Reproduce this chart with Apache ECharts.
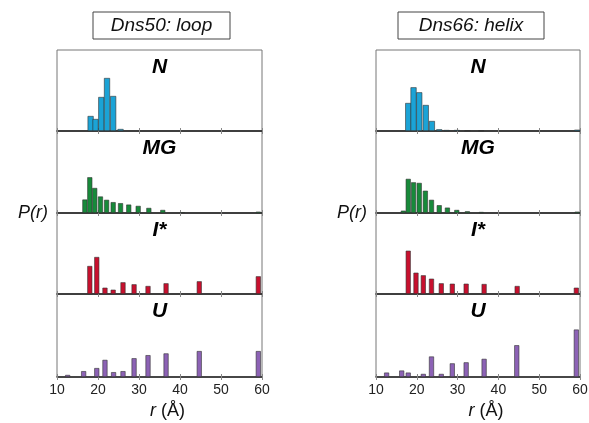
<!DOCTYPE html>
<html>
<head>
<meta charset="utf-8">
<script src="https://cdn.jsdelivr.net/npm/echarts@6/dist/echarts.min.js"></script>
<style>
  html, body { margin: 0; padding: 0; background: #fff; }
  #chart { width: 589px; height: 423px; }
</style>
</head>
<body>
<div id="chart"></div>
<script>
// panel names, top to bottom
var states = ['N', 'MG', 'I*', 'U']
var colTitles = ['Dns50: loop', 'Dns66: helix']
var xTicks = [10, 20, 30, 40, 50, 60]

// Dns50: loop  (r in Å, P(r) in arbitrary units)
var loopN_r = [18.2, 19.4, 20.8, 22.2, 23.7, 25.5]
var loopN_p = [15, 12, 34, 53, 35, 2]
var loopMG_r = [16.8, 18.0, 19.2, 20.6, 22.1, 23.7, 25.5, 27.5, 29.8, 32.4, 35.8, 40.6, 59.1]
var loopMG_p = [13.3, 35.3, 24.7, 16.3, 13, 10.7, 9.7, 8.3, 7, 5, 3, 0.8, 1.3]
var loopI_r = [18.0, 19.7, 21.7, 23.7, 26.1, 28.8, 32.2, 36.6, 44.7, 59.1]
var loopI_p = [28, 37, 6.3, 4.3, 11.7, 9.7, 8, 10.7, 12.7, 17.7]
var loopU_r = [12.6, 16.5, 19.7, 21.7, 23.8, 26.1, 28.8, 32.2, 36.6, 44.7, 59.1]
var loopU_p = [2, 5.7, 8.7, 16.7, 4.7, 5.7, 18.3, 21.3, 23, 25.3, 25.3]

// Dns66: helix
var helixN_r = [17.9, 19.2, 20.6, 22.2, 23.7, 25.5, 27.3, 29.8, 32.4, 35.8, 59.3]
var helixN_p = [28, 43.7, 38.7, 26, 10, 1.7, 1, 1, 0.6, 0.6, 1.3]
var helixMG_r = [16.7, 17.9, 19.2, 20.6, 22.1, 23.6, 25.5, 27.5, 29.8, 32.4, 35.8, 59.3]
var helixMG_p = [2.3, 33.7, 30.3, 29.7, 22, 13, 7.7, 5.3, 3, 1.7, 1, 1.3]
var helixI_r = [17.9, 19.8, 21.6, 23.6, 26.0, 28.7, 32.1, 36.5, 44.6, 59.1]
var helixI_p = [43.3, 21.3, 18.7, 15.3, 10.7, 10.3, 10.3, 10, 8, 6.3]
var helixU_r = [12.6, 16.3, 17.9, 21.6, 23.6, 26.0, 28.7, 32.1, 36.5, 44.5, 59.1]
var helixU_p = [4.3, 6.3, 4.3, 3, 20, 3, 13.3, 14.3, 17.7, 31, 46.3]

var colors = ['#1ba3d6', '#178a3a', '#c8102e', '#8c62b5']

var panelData = [
    [[loopN_r, loopN_p], [loopMG_r, loopMG_p], [loopI_r, loopI_p], [loopU_r, loopU_p]],
    [[helixN_r, helixN_p], [helixMG_r, helixMG_p], [helixI_r, helixI_p], [helixU_r, helixU_p]]
]

var colLeft = [57, 376]
var colWidth = [205, 204]
var rowTop = [50, 131, 213, 294, 377]
var font = 'Liberation Sans, Arial, sans-serif'

function pairs(r, p) {
    return r.map(function(v, i) { return [v, p[i]] })
}

var grids = [], xAxes = [], yAxes = [], series = [], graphics = []

for (var c = 0; c < 2; c++) {
    for (var s = 0; s < 4; s++) {
        var gi = grids.length
        var last = s == 3
        grids.push({
            left: colLeft[c],
            width: colWidth[c],
            top: rowTop[s],
            height: rowTop[s + 1] - rowTop[s],
            show: true,
            borderColor: '#777',
            borderWidth: 1,
            outerBoundsMode: 'none'
        })
        // bottom axis (labels only on the last row)
        xAxes.push({
            gridIndex: gi,
            type: 'value',
            min: 10, max: 60, interval: 10,
            position: 'bottom',
            axisLine: { show: true, onZero: false, lineStyle: { color: '#222', width: 1.5 } },
            axisTick: { show: true, inside: true, length: 3, lineStyle: { color: '#888' } },
            axisLabel: {
                show: last, color: '#222', fontSize: 14, fontFamily: font, margin: 6,
                formatter: function(v) { return xTicks.indexOf(v) >= 0 ? String(v) : '' }
            },
            splitLine: { show: false }
        })
        // top axis, ticks only
        xAxes.push({
            gridIndex: gi,
            type: 'value',
            min: 10, max: 60, interval: 10,
            position: 'top',
            axisLine: { show: false },
            axisTick: { show: true, inside: true, length: 3, lineStyle: { color: '#888' } },
            axisLabel: { show: false },
            splitLine: { show: false }
        })
        yAxes.push({
            gridIndex: gi,
            type: 'value',
            min: 0, max: 81,
            show: false,
            splitLine: { show: false }
        })
        var d = panelData[c][s]
        series.push({
            type: 'bar',
            xAxisIndex: gi * 2,
            yAxisIndex: gi,
            barWidth: s == 0 ? 6 : 5,
            itemStyle: { color: colors[s], borderColor: '#333', borderWidth: 0.6 },
            data: pairs(d[0], d[1])
        })
        // panel label
        graphics.push({
            type: 'text',
            x: colLeft[c] + colWidth[c] / 2,
            y: rowTop[s] + 17,
            style: {
                text: states[s], fill: '#000', font: 'italic bold 21px ' + font,
                align: 'center', verticalAlign: 'middle'
            }
        })
    }
    // column title box
    var cx = colLeft[c] + colWidth[c] / 2 + (c == 0 ? 2 : -7)
    var bw = c == 0 ? 137 : 146
    graphics.push({
        type: 'rect',
        shape: { x: cx - bw / 2, y: 12, width: bw, height: 27 },
        style: { fill: '#fff', stroke: '#444', lineWidth: 1 }
    })
    graphics.push({
        type: 'text',
        x: cx, y: 26,
        style: {
            text: colTitles[c], fill: '#111', font: 'italic 19px ' + font,
            align: 'center', verticalAlign: 'middle'
        }
    })
    // y label
    graphics.push({
        type: 'text',
        x: colLeft[c] - 9, y: 213,
        style: {
            text: 'P(r)', fill: '#111', font: 'italic 18px ' + font,
            align: 'right', verticalAlign: 'middle'
        }
    })
    // x label
    graphics.push({
        type: 'text',
        x: colLeft[c] + colWidth[c] / 2 + 8, y: 411,
        style: {
            text: '{i|r} (Å)', fill: '#111', font: '18px ' + font,
            align: 'center', verticalAlign: 'middle',
            rich: { i: { fontStyle: 'italic', fontSize: 18, fontFamily: font } }
        }
    })
}

var myChart = echarts.init(document.getElementById('chart'))
var option = {
    animation: false,
    backgroundColor: '#fff',
    grid: grids,
    xAxis: xAxes,
    yAxis: yAxes,
    series: series,
    graphic: graphics
}
myChart.setOption(option)
</script>
</body>
</html>
